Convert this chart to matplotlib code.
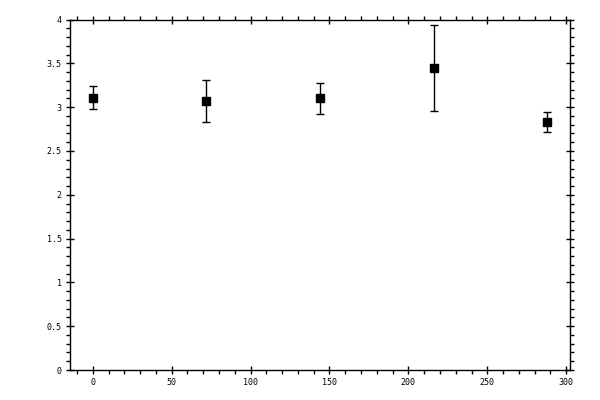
import numpy as np
import matplotlib
matplotlib.use('Agg')
import matplotlib.pyplot as plt
from matplotlib.ticker import MultipleLocator

# values
x_pos = [0, 72, 144, 216, 288]
y_mean = [3.11, 3.07, 3.10, 3.45, 2.83]
y_err = [0.13, 0.235, 0.18, 0.49, 0.11]

fig = plt.figure(figsize=(6, 4), dpi=100)
ax = fig.add_axes([0.1167, 0.075, 0.8333, 0.876])

ax.errorbar(x_pos, y_mean, yerr=y_err, fmt='s', color='black',
            markersize=5.5, elinewidth=1, capsize=3, capthick=1)

ax.set_xlim(-14.4, 302.4)
ax.set_ylim(0, 4.0)

ax.xaxis.set_major_locator(MultipleLocator(50))
ax.xaxis.set_minor_locator(MultipleLocator(10))
ax.yaxis.set_major_locator(MultipleLocator(0.5))
ax.yaxis.set_minor_locator(MultipleLocator(0.1))

ax.yaxis.set_major_formatter(plt.FuncFormatter(lambda v, p: ('%g' % v)))

ax.tick_params(which='major', direction='inout', length=6, width=1,
               top=True, right=True, labelsize=6, pad=3)
ax.tick_params(which='minor', direction='out', length=3, width=1,
               top=True, right=True)
for lab in ax.get_xticklabels() + ax.get_yticklabels():
    lab.set_family('DejaVu Sans Mono')

for s in ax.spines.values():
    s.set_linewidth(1)

fig.savefig('out.png', dpi=100)
